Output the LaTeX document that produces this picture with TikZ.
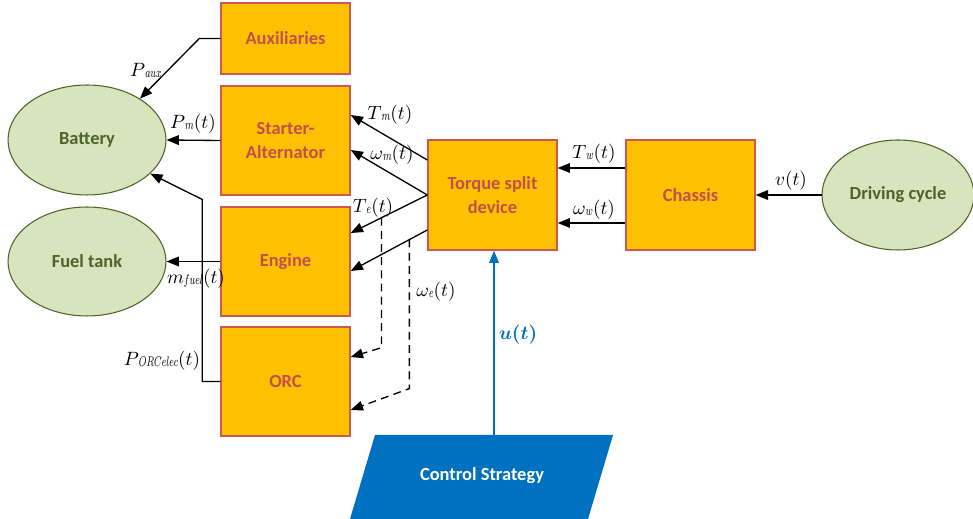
\documentclass[tikz,border=0pt]{standalone}
\usepackage{bm}
\usepackage{fontspec}
\setmainfont{Carlito}
\usetikzlibrary{arrows.meta,calc,shapes.geometric}
\definecolor{boxfill}{RGB}{255,192,0}
\definecolor{boxline}{RGB}{200,90,80}
\definecolor{boxtext}{RGB}{192,80,77}
\definecolor{ellfill}{RGB}{215,228,189}
\definecolor{elltext}{RGB}{79,98,40}
\definecolor{ctrlblue}{RGB}{0,112,192}
\newcommand{\lsub}[1]{\raisebox{-0.6pt}{\scalebox{0.66}[1]{\fontsize{8}{9}\selectfont$#1$}}}
\begin{document}
\begin{tikzpicture}[x=0.02cm,y=-0.02cm,
  block/.style={draw=boxline,line width=0.8pt,fill=boxfill,text=boxtext,
    font=\fontsize{10.5}{14}\selectfont\bfseries,align=center,
    minimum width=2.58cm,minimum height=2.18cm,inner sep=0pt},
  oval/.style={ellipse,draw=elltext,line width=0.6pt,fill=ellfill,text=elltext,
    font=\fontsize{10.5}{14}\selectfont\bfseries,
    minimum width=3.16cm,minimum height=2.2cm,inner sep=0pt},
  conn/.style={line width=0.75pt,-{Triangle[length=7pt,width=5.5pt]}},
  dconn/.style={conn,dash pattern=on 4.5pt off 3pt},
  lbl/.style={font=\fontsize{11}{13}\selectfont,inner sep=0pt}]
\useasboundingbox (0,0) rectangle (973,519);

% blocks
\node[block,minimum height=1.42cm] (aux) at (285.5,38.5) {Auxiliaries};
\node[block] (sa) at (285.5,140.5) {Starter-\\Alternator};
\node[block] (eng) at (285.5,261.5) {Engine};
\node[block] (orc) at (285.5,381.5) {ORC};
\node[block,minimum height=2.2cm] (tsd) at (492.5,195) {Torque split\\device};
\node[block,minimum height=2.2cm] (ch) at (690.5,195) {Chassis};

% ellipses
\node[oval] (bat) at (87,140) {Battery};
\node[oval,minimum height=2.18cm] (fuel) at (87,261.5) {Fuel tank};
\node[oval,minimum width=3.04cm] (dc) at (898,195) {Driving cycle};

% control strategy
\fill[ctrlblue] (375,435) -- (613,435) -- (588,519) -- (350,519) -- cycle;
\node[text=white,font=\fontsize{10.5}{12}\selectfont\bfseries] (cs) at (482,476) {Control Strategy};
\coordinate (cstop) at (494,435);

% connectors to battery / fuel tank
\draw[conn] (aux.west) -- ++(-21,0) -- (bat.38);
\draw[conn] (sa.west) -- (bat.east);
\draw[conn] (orc.west) -- ++(-18,0) -- ++(0,-182) -- (bat.-28);
\draw[conn] (eng.west) -- (fuel.east);

% torque split to machines
\draw[conn] ($(tsd.west)+(0,-35)$) -- ($(sa.east)+(0,-25.5)$);
\draw[conn] (tsd.west) -- ($(sa.east)+(0,9.5)$);
\draw[conn] (tsd.west) -- ($(eng.east)+(0,-28.5)$) coordinate[pos=0.597] (d1);
\draw[conn] ($(tsd.west)+(0,35)$) -- ($(eng.east)+(0,9.5)$) coordinate[pos=0.234] (d2);
\draw[dconn] (d1) -- ++(0,130) -- ($(orc.east)+(0,-24.5)$);
\draw[dconn] (d2) -- ++(0,149) -- ($(orc.east)+(0,28.5)$);

% chassis
\draw[conn] ($(ch.west)+(0,-27)$) -- ($(tsd.east)+(0,-27)$);
\draw[conn] ($(ch.west)+(0,28)$) -- ($(tsd.east)+(0,28)$);
\draw[conn] (dc.west) -- (dc.west -| ch.east);

% control
\draw[line width=0.75pt,ctrlblue,-{Triangle[length=7pt,width=5.5pt]}] (cstop) -- (tsd.south -| cstop);

% labels
\node[lbl] (lpaux) at (146,70) {$P\lsub{aux}$};
\node[lbl] (lpm) at (193,124) {$P\lsub{m}(t)$};
\node[lbl] (lporc) at (162,361) {$P\lsub{ORCelec}(t)$};
\node[lbl] (lmf) at (196,279) {$m\lsub{fuel}(t)$};
\node[lbl] (ltm) at (390,115) {$T\lsub{m}(t)$};
\node[lbl] (lwm) at (392,155) {$\omega\lsub{m}(t)$};
\node[lbl] (lte) at (373,208) {$T\lsub{e}(t)$};
\node[lbl] (lwe) at (436,292) {$\omega\lsub{e}(t)$};
\node[lbl] (ltw) at (594,154) {$T\lsub{w}(t)$};
\node[lbl] (lww) at (594,210) {$\omega\lsub{w}(t)$};
\node[lbl] (lv) at (791,181) {$v(t)$};
\node[lbl,text=ctrlblue] (lu) at (518,335) {$\bm{u(t)}$};
\end{tikzpicture}
\end{document}
